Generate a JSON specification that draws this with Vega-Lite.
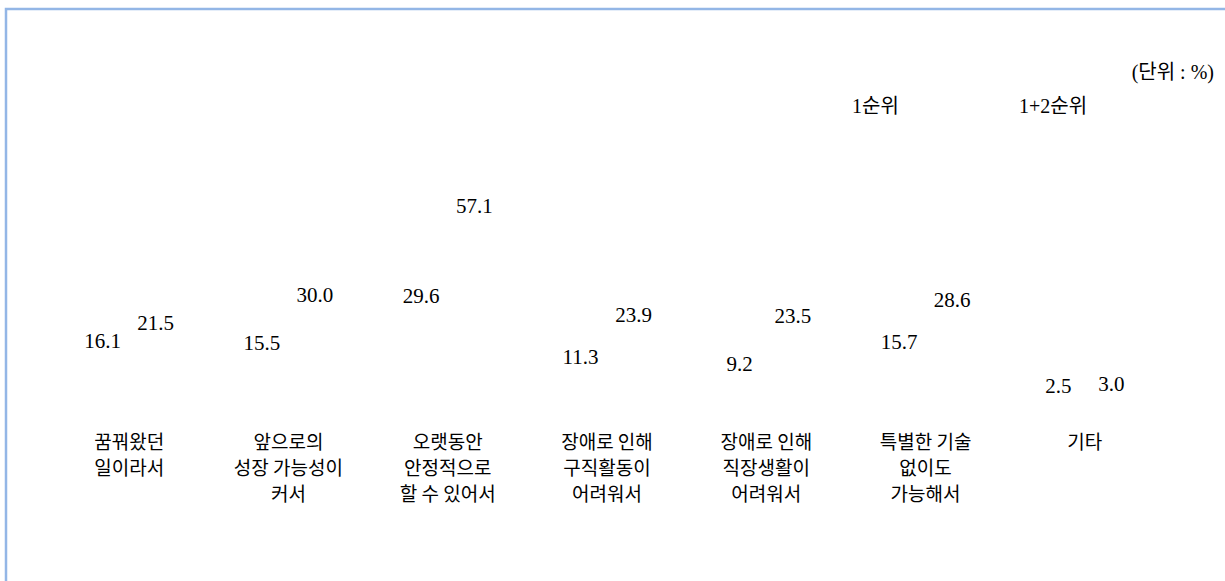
{
  "$schema": "https://vega.github.io/schema/vega-lite/v6.json",
  "autosize": {"type": "none"},
  "padding": {"left": 6, "top": 9, "right": 0, "bottom": 0},
  "width": 1222,
  "height": 580,
  "background": "white",
  "config": {
    "view": {"stroke": "#93b6e6", "strokeWidth": 2.5},
    "font": "Liberation Serif, Noto Sans CJK KR"
  },
  "title": {
    "text": "(단위 : %)",
    "anchor": "end",
    "frame": "group",
    "orient": "top",
    "offset": -74,
    "dx": -14,
    "fontSize": 20,
    "fontWeight": "normal",
    "font": "Liberation Serif, Noto Sans CJK KR",
    "color": "#000000"
  },
  "data": {
    "values": [
      {"이유": "꿈꿔왔던|일이라서", "구분": "1순위", "비율": 16.1},
      {"이유": "꿈꿔왔던|일이라서", "구분": "1+2순위", "비율": 21.5},
      {"이유": "앞으로의|성장 가능성이|커서", "구분": "1순위", "비율": 15.5},
      {"이유": "앞으로의|성장 가능성이|커서", "구분": "1+2순위", "비율": 30.0},
      {"이유": "오랫동안|안정적으로|할 수 있어서", "구분": "1순위", "비율": 29.6},
      {"이유": "오랫동안|안정적으로|할 수 있어서", "구분": "1+2순위", "비율": 57.1},
      {"이유": "장애로 인해|구직활동이|어려워서", "구분": "1순위", "비율": 11.3},
      {"이유": "장애로 인해|구직활동이|어려워서", "구분": "1+2순위", "비율": 23.9},
      {"이유": "장애로 인해|직장생활이|어려워서", "구분": "1순위", "비율": 9.2},
      {"이유": "장애로 인해|직장생활이|어려워서", "구분": "1+2순위", "비율": 23.5},
      {"이유": "특별한 기술|없이도|가능해서", "구분": "1순위", "비율": 15.7},
      {"이유": "특별한 기술|없이도|가능해서", "구분": "1+2순위", "비율": 28.6},
      {"이유": "기타", "구분": "1순위", "비율": 2.5},
      {"이유": "기타", "구분": "1+2순위", "비율": 3.0}
    ]
  },
  "mark": {"type": "text", "baseline": "middle", "align": "center", "fontSize": 21, "font": "Liberation Serif"},
  "encoding": {
    "x": {
      "field": "이유",
      "type": "nominal",
      "sort": null,
      "scale": {"range": [43.5, 1158.5], "paddingInner": 0, "paddingOuter": 0},
      "axis": {
        "title": null,
        "orient": "bottom",
        "offset": -194,
        "domain": false,
        "ticks": false,
        "grid": false,
        "labelAngle": 0,
        "labelExpr": "split(datum.value, '|')",
        "labelFont": "Noto Sans CJK KR",
        "labelFontSize": 19,
        "labelLineHeight": 26,
        "labelPadding": 38,
        "labelColor": "#000000",
        "labelBaseline": "top"
      }
    },
    "xOffset": {
      "field": "구분",
      "type": "nominal",
      "sort": ["1순위", "1+2순위"],
      "scale": {"paddingInner": 0, "paddingOuter": 1}
    },
    "y": {
      "field": "비율",
      "type": "quantitative",
      "scale": {"domain": [0, 80], "range": [386, 122], "nice": false, "zero": true},
      "axis": null
    },
    "text": {"field": "비율", "type": "quantitative", "format": ".1f"},
    "color": {
      "field": "구분",
      "type": "nominal",
      "sort": ["1순위", "1+2순위"],
      "scale": {"range": ["#000000", "#000000"]},
      "legend": {
        "title": null,
        "orient": "none",
        "legendX": 826,
        "legendY": 88,
        "direction": "horizontal",
        "symbolSize": 0,
        "symbolOpacity": 0,
        "symbolStrokeWidth": 0,
        "labelOffset": 0,
        "columnPadding": 100,
        "labelFont": "Liberation Serif, Noto Sans CJK KR",
        "labelFontSize": 20,
        "labelColor": "#000000"
      }
    }
  }
}
